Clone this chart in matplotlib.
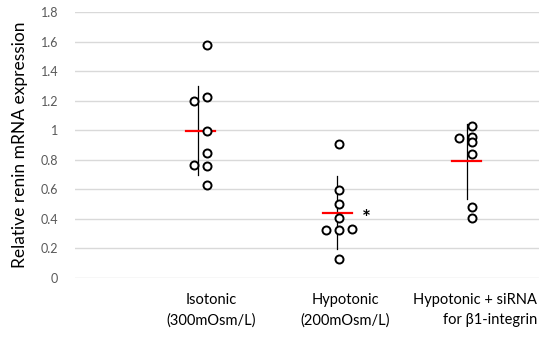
import numpy as np
import matplotlib.pyplot as plt

plt.rcParams['font.family'] = ['Lato', 'DejaVu Sans']

# data
groups = ['Isotonic\n(300mOsm/L)', 'Hypotonic\n(200mOsm/L)', 'Hypotonic + siRNA\nfor \u03b21-integrin']
iso_vals = [1.58, 1.225, 1.20, 0.995, 0.846, 0.767, 0.758, 0.627]
iso_jit = [0, 0, -1, 0, 0, -1, 0, 0]
hypo_vals = [0.907, 0.593, 0.503, 0.404, 0.327, 0.323, 0.334, 0.129]
hypo_jit = [0, 0, 0, 0, -1, 0, 1, 0]
sirna_vals = [1.028, 0.949, 0.956, 0.918, 0.839, 0.478, 0.406]
sirna_jit = [0, -1, 0, 0, 0, 0, 0]
means = [0.998, 0.442, 0.79]
sds = [0.303, 0.248, 0.255]

all_vals = [iso_vals, hypo_vals, sirna_vals]
all_jit = [iso_jit, hypo_jit, sirna_jit]
xpos = np.array([1, 2, 3])
bar_off = [-0.05, 0.0, -0.02]
mean_off = [-0.035, 0.0, -0.025]

fig = plt.figure(figsize=(5.5, 3.4), dpi=100)
ax = fig.add_axes([75/550, 1 - 278/340, (539 - 75)/550, (278 - 12)/340])

for i in range(3):
    vals = np.array(all_vals[i])
    xs = xpos[i] + 0.015 + 0.098*np.array(all_jit[i])
    # error bar
    ax.plot([xpos[i] + bar_off[i]]*2, [means[i] - sds[i], means[i] + sds[i]],
            color='black', lw=0.9, zorder=2)
    # mean line
    xm = xpos[i] + mean_off[i]
    ax.plot([xm - 0.11, xm + 0.11], [means[i], means[i]], color='#ff0000', lw=1.6, zorder=3)
    ax.plot(xs, vals, 'o', mfc='white', mec='black', ms=5.8, mew=1.4, zorder=4)

ax.text(2.215, 0.40, '*', fontsize=15, fontweight='bold', ha='center', va='center')

ax.set_xlim(0.02, 3.52)
ax.set_ylim(0, 1.8)
ax.set_yticks(np.arange(0, 1.81, 0.2))
ax.set_yticklabels(['0', '0.2', '0.4', '0.6', '0.8', '1', '1.2', '1.4', '1.6', '1.8'],
                   fontsize=9, color='#595959')
ax.set_xticks([])
ax.tick_params(axis='y', length=0, pad=12)
ax.grid(axis='y', color='#d9d9d9', lw=1)
ax.set_axisbelow(True)
for s in ax.spines.values():
    s.set_visible(False)
ax.set_ylabel('Relative renin mRNA expression', fontsize=12.5, labelpad=9)

# category labels
ax.text(1.045, -0.10, groups[0], ha='center', va='top', fontsize=10.5, linespacing=1.55, clip_on=False)
ax.text(2.057, -0.10, groups[1], ha='center', va='top', fontsize=10.5, linespacing=1.55, clip_on=False)
ax.text(3.506, -0.10, groups[2], ha='right', va='top', multialignment='right',
        fontsize=10.5, linespacing=1.55, clip_on=False)

fig.savefig('out.png', dpi=100)
